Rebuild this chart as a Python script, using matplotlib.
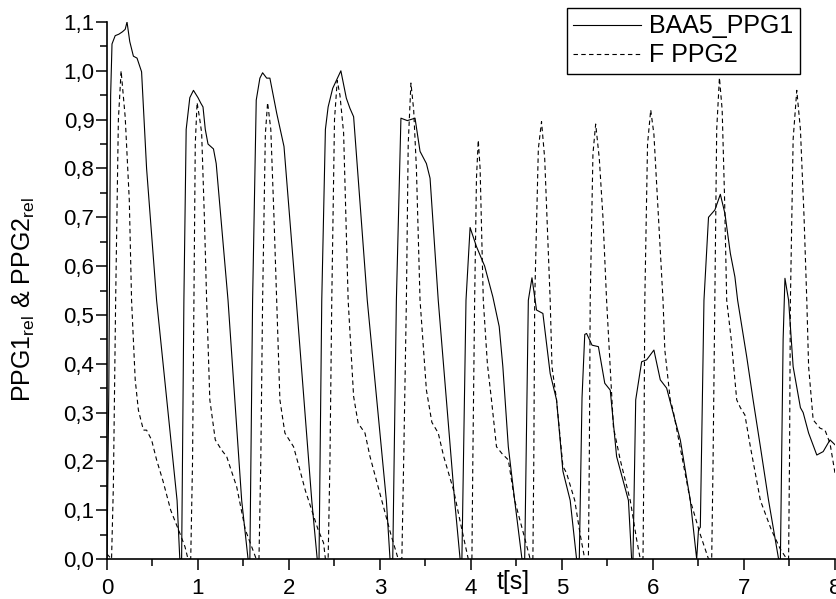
import matplotlib
matplotlib.use("Agg")
import matplotlib.pyplot as plt
from matplotlib.ticker import MultipleLocator, FuncFormatter

plt.rcParams["font.family"] = ["Liberation Sans", "DejaVu Sans"]
plt.rcParams["mathtext.fontset"] = "custom"
plt.rcParams["mathtext.rm"] = "Liberation Sans"

# BAA5_PPG1 (solid)
ppg1_t = [0.00, 0.02, 0.04, 0.055, 0.09, 0.13, 0.17, 0.20, 0.22, 0.25, 0.29, 0.33, 0.38, 0.435, 0.545, 0.66, 0.77, 0.80,
          0.82, 0.845, 0.87, 0.91, 0.95, 1.00, 1.03, 1.055, 1.08, 1.11, 1.17, 1.20, 1.33, 1.48, 1.55,
          1.57, 1.60, 1.64, 1.68, 1.71, 1.755, 1.79, 1.865, 1.945, 2.08, 2.25, 2.31,
          2.33, 2.36, 2.40, 2.43, 2.48, 2.52, 2.57, 2.63, 2.67, 2.71, 2.86, 3.07, 3.11,
          3.14, 3.18, 3.23, 3.30, 3.385, 3.44, 3.51, 3.55, 3.64, 3.82, 3.88,
          3.90, 3.945, 3.99, 4.06, 4.15, 4.24, 4.31, 4.35, 4.41, 4.48, 4.56,
          4.59, 4.63, 4.67, 4.72, 4.79, 4.87, 4.94, 5.01, 5.09, 5.16,
          5.19, 5.22, 5.25, 5.27, 5.33, 5.40, 5.47, 5.53, 5.60, 5.73, 5.765,
          5.78, 5.81, 5.875, 5.93, 5.97, 6.01, 6.08, 6.15, 6.22, 6.30, 6.41, 6.48,
          6.50, 6.52, 6.56, 6.61, 6.68, 6.74, 6.79, 6.85, 6.90, 6.93, 7.03, 7.10, 7.18, 7.27, 7.38,
          7.40, 7.43, 7.45, 7.49, 7.54, 7.62, 7.65, 7.71, 7.80, 7.87, 7.945, 8.00]
ppg1_y = [0.00, 0.35, 0.95, 1.055, 1.072, 1.075, 1.08, 1.085, 1.10, 1.06, 1.03, 1.026, 0.998, 0.80, 0.53, 0.32, 0.12, 0.0,
          0.0, 0.53, 0.88, 0.945, 0.96, 0.945, 0.934, 0.926, 0.88, 0.85, 0.84, 0.81, 0.53, 0.12, 0.0,
          0.0, 0.53, 0.94, 0.985, 0.996, 0.985, 0.985, 0.913, 0.845, 0.53, 0.12, 0.0,
          0.0, 0.53, 0.88, 0.926, 0.964, 0.98, 1.0, 0.944, 0.923, 0.906, 0.53, 0.12, 0.0,
          0.0, 0.53, 0.903, 0.898, 0.903, 0.835, 0.81, 0.78, 0.53, 0.12, 0.0,
          0.0, 0.53, 0.679, 0.64, 0.60, 0.537, 0.476, 0.394, 0.23, 0.12, 0.0,
          0.0, 0.53, 0.576, 0.51, 0.503, 0.38, 0.326, 0.18, 0.12, 0.0,
          0.0, 0.33, 0.46, 0.462, 0.438, 0.435, 0.36, 0.346, 0.21, 0.12, 0.0,
          0.0, 0.326, 0.404, 0.408, 0.418, 0.428, 0.367, 0.35, 0.30, 0.244, 0.12, 0.0,
          0.06, 0.065, 0.53, 0.70, 0.715, 0.747, 0.708, 0.626, 0.578, 0.53, 0.414, 0.326, 0.23, 0.12, 0.0,
          0.0, 0.45, 0.575, 0.53, 0.394, 0.31, 0.30, 0.258, 0.213, 0.22, 0.244, 0.234]

# F PPG2 (dashed)
ppg2_t = [0.00, 0.05, 0.07, 0.095, 0.125, 0.155, 0.20, 0.245, 0.27, 0.31, 0.345, 0.40, 0.435, 0.49, 0.545, 0.615, 0.70, 0.80, 0.857, 0.89,
          0.92, 0.94, 0.955, 0.97, 0.99, 1.02, 1.04, 1.07, 1.095, 1.13, 1.19, 1.26, 1.315, 1.35, 1.425, 1.52, 1.60, 1.64,
          1.67, 1.69, 1.71, 1.74, 1.765, 1.80, 1.835, 1.865, 1.90, 1.955, 2.05, 2.10, 2.18, 2.25, 2.32, 2.38, 2.40,
          2.43, 2.45, 2.47, 2.50, 2.53, 2.56, 2.60, 2.65, 2.71, 2.76, 2.835, 2.89, 3.02, 3.12, 3.20,
          3.24, 3.26, 3.29, 3.31, 3.34, 3.37, 3.40, 3.44, 3.51, 3.57, 3.64, 3.70, 3.81, 3.90, 3.97,
          4.01, 4.02, 4.04, 4.06, 4.08, 4.10, 4.135, 4.18, 4.225, 4.28, 4.34, 4.41, 4.48, 4.58, 4.65,
          4.68, 4.69, 4.70, 4.74, 4.775, 4.81, 4.87, 4.89, 4.94, 5.01, 5.05, 5.14, 5.20, 5.25,
          5.29, 5.30, 5.31, 5.34, 5.37, 5.41, 5.45, 5.49, 5.565, 5.64, 5.75, 5.82, 5.86,
          5.89, 5.90, 5.91, 5.94, 5.975, 6.01, 6.06, 6.11, 6.13, 6.19, 6.22, 6.31, 6.41, 6.52, 6.61,
          6.645, 6.66, 6.68, 6.70, 6.73, 6.76, 6.785, 6.81, 6.86, 6.92, 6.96, 7.01, 7.07, 7.18, 7.30, 7.40, 7.47,
          7.49, 7.50, 7.51, 7.54, 7.58, 7.62, 7.66, 7.69, 7.71, 7.76, 7.835, 7.89, 7.945, 8.00]
ppg2_y = [0.01, 0.0, 0.15, 0.53, 0.90, 1.0, 0.905, 0.735, 0.53, 0.367, 0.305, 0.264, 0.264, 0.244, 0.203, 0.16, 0.10, 0.053, 0.025, 0.0,
          0.0, 0.2, 0.53, 0.85, 0.935, 0.90, 0.873, 0.70, 0.53, 0.326, 0.244, 0.223, 0.21, 0.19, 0.148, 0.06, 0.02, 0.0,
          0.0, 0.2, 0.53, 0.87, 0.935, 0.88, 0.70, 0.53, 0.326, 0.258, 0.23, 0.196, 0.14, 0.10, 0.06, 0.033, 0.0,
          0.0, 0.2, 0.53, 0.90, 0.98, 0.95, 0.873, 0.53, 0.333, 0.278, 0.258, 0.21, 0.12, 0.05, 0.0,
          0.0, 0.2, 0.53, 0.85, 0.975, 0.92, 0.80, 0.53, 0.346, 0.28, 0.258, 0.21, 0.14, 0.06, 0.0,
          0.0, 0.2, 0.53, 0.78, 0.858, 0.80, 0.53, 0.40, 0.326, 0.23, 0.216, 0.203, 0.12, 0.05, 0.0,
          0.0, 0.2, 0.53, 0.84, 0.896, 0.82, 0.53, 0.394, 0.326, 0.19, 0.176, 0.12, 0.05, 0.0,
          0.0, 0.2, 0.53, 0.83, 0.891, 0.82, 0.70, 0.53, 0.27, 0.203, 0.12, 0.04, 0.0,
          0.0, 0.2, 0.53, 0.85, 0.92, 0.87, 0.70, 0.53, 0.428, 0.326, 0.305, 0.217, 0.12, 0.05, 0.0,
          0.0, 0.2, 0.53, 0.88, 0.986, 0.92, 0.75, 0.53, 0.449, 0.326, 0.31, 0.295, 0.23, 0.12, 0.06, 0.02, 0.0,
          0.0, 0.2, 0.53, 0.86, 0.96, 0.88, 0.70, 0.53, 0.394, 0.285, 0.268, 0.264, 0.237, 0.176]

fig = plt.figure(figsize=(8.37, 5.99), dpi=100)
ax = fig.add_axes([107 / 837, 40 / 599, 728 / 837, 537 / 599])

ax.plot(ppg1_t, ppg1_y, color="k", lw=0.8, label="BAA5_PPG1")
ax.plot(ppg2_t, ppg2_y, color="k", lw=0.8, linestyle=(0, (4, 3)), label="F PPG2")

ax.set_xlim(0, 8)
ax.set_ylim(0, 1.1)
ax.xaxis.set_major_locator(MultipleLocator(1))
ax.xaxis.set_minor_locator(MultipleLocator(0.5))
ax.yaxis.set_major_locator(MultipleLocator(0.1))
ax.yaxis.set_minor_locator(MultipleLocator(0.05))
ax.yaxis.set_major_formatter(FuncFormatter(lambda v, p: f"{v:.1f}".replace(".", ",")))
ax.xaxis.set_major_formatter(FuncFormatter(lambda v, p: f"{v:.0f}"))

for s in ["top", "right"]:
    ax.spines[s].set_visible(False)
for s in ["left", "bottom"]:
    ax.spines[s].set_linewidth(1.2)

ax.tick_params(which="major", direction="out", length=8, width=1.1, labelsize=16)
ax.tick_params(which="minor", direction="out", length=4.8, width=1.1)
ax.tick_params(axis="x", which="major", pad=6)
ax.tick_params(axis="y", which="major", pad=1)

ax.text(4.46, -0.043, "t[s]", transform=ax.get_xaxis_transform(),
        ha="center", va="center", fontsize=18)
fig.text(24 / 837, 1 - 300 / 599, r"PPG1$_{\rm rel}$ & PPG2$_{\rm rel}$",
         rotation=90, ha="center", va="center", fontsize=18)

leg = ax.legend(loc="upper right", bbox_to_anchor=(800 / 837, 1 - 8 / 599),
                bbox_transform=fig.transFigure, fontsize=18, frameon=True,
                fancybox=False, framealpha=1, edgecolor="k", borderaxespad=0,
                handlelength=2.7, handletextpad=0.35, labelspacing=0.2, borderpad=0.25)
leg.get_frame().set_linewidth(1.0)

fig.savefig("out.png", dpi=100)
